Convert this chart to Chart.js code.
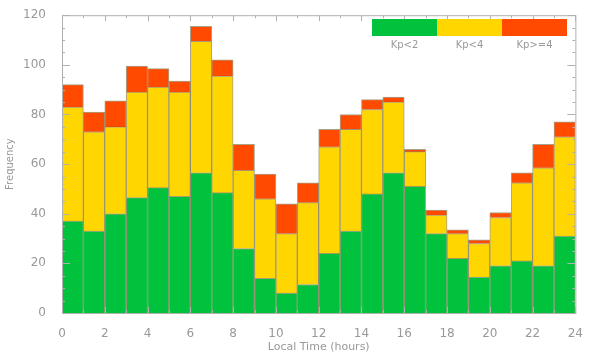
<!DOCTYPE html>
<html>
<head>
<meta charset="utf-8">
<script src="https://cdn.jsdelivr.net/npm/chart.js@4/dist/chart.umd.min.js"></script>
<style>
  html, body { margin: 0; padding: 0; background: #fff; }
  #wrap { width: 589px; height: 358px; }
</style>
</head>
<body>
<div id="wrap"><canvas id="kpChart"></canvas></div>
<script>
// hour bins 0..23 (bar centred at h + 0.5)
const hours = [0,1,2,3,4,5,6,7,8,9,10,11,12,13,14,15,16,17,18,19,20,21,22,23];
// cumulative tops
const topGreen  = [37,33,40,46.5,50.5,47,56.5,48.5,26,14,8,11.5,24,33,48,56.5,51,32,22,14.5,19,21,19,31];
const topYellow = [83,73,75,89,91,89,109.5,95.5,57.5,46,32,44.5,67,74,82,85,65,39.5,32,28,38.5,52.5,58.5,71];
const topAll    = [92,81,85.5,99.5,98.5,93.5,115.5,102,68,56,44,52.5,74,80,86,87,66,41.5,33.5,29.5,40.5,56.5,68,77];
const xTicks = [0,2,4,6,8,10,12,14,16,18,20,22,24];
const yTicks = [0,20,40,60,80,100,120];
const legendLabels = ['Kp<2','Kp<4','Kp>=4'];
const colors = ['#00c23c','#ffd600','#ff4a00'];

const green  = hours.map((h,i) => ({ x: h + 0.5, y: topGreen[i] }));
const yellow = hours.map((h,i) => ({ x: h + 0.5, y: topYellow[i] - topGreen[i] }));
const red    = hours.map((h,i) => ({ x: h + 0.5, y: topAll[i] - topYellow[i] }));

const textGrey = '#999';
const font = { family: 'DejaVu Sans', size: 11 };

// box round the plot plus the IDL-style inside ticks
const frame = {
  id: 'frame',
  afterDatasetsDraw(chart){
    const { ctx, chartArea: a, scales } = chart;
    ctx.save();
    ctx.strokeStyle = '#b0b0b0';
    ctx.lineWidth = 1;
    ctx.strokeRect(a.left + 0.5, a.top + 0.5, a.right - a.left, a.bottom - a.top);
    ctx.beginPath();
    for (let h = 0; h <= 24; h++) {
      const x = Math.round(scales.x.getPixelForValue(h)) + 0.5;
      const len = h % 2 === 0 ? 6 : 3;
      ctx.moveTo(x, a.bottom); ctx.lineTo(x, a.bottom - len);
      ctx.moveTo(x, a.top); ctx.lineTo(x, a.top + len);
    }
    for (let v = 0; v <= 120; v += 5) {
      const y = Math.round(scales.y.getPixelForValue(v)) + 0.5;
      const len = v % 20 === 0 ? 8 : 3;
      ctx.moveTo(a.left, y); ctx.lineTo(a.left + len, y);
      ctx.moveTo(a.right, y); ctx.lineTo(a.right - len, y);
    }
    ctx.stroke();

    // colour-bar legend, top right
    const lx = 372, ly = 19, segW = 65, segH = 17;
    colors.forEach((c, i) => {
      ctx.fillStyle = c;
      ctx.fillRect(lx + i * segW, ly, segW, segH);
    });
    ctx.fillStyle = textGrey;
    ctx.font = '10px "DejaVu Sans"';
    ctx.textAlign = 'center';
    ctx.textBaseline = 'middle';
    legendLabels.forEach((t, i) => ctx.fillText(t, lx + i * segW + segW / 2, ly + segH + 9));
    ctx.restore();
  }
};

const ds = (label, data, i) => ({
  label, data,
  backgroundColor: colors[i],
  borderColor: 'rgba(80,70,20,0.5)',
  borderWidth: 1,
  barPercentage: 1,
  categoryPercentage: 1
});

new Chart(document.getElementById('kpChart'), {
  type: 'bar',
  data: { datasets: [ds(legendLabels[0], green, 0), ds(legendLabels[1], yellow, 1), ds(legendLabels[2], red, 2)] },
  options: {
    responsive: true, maintainAspectRatio: false, animation: false,
    layout: { padding: { top: 12, right: 6, left: 0, bottom: 0 } },
    plugins: { legend: { display: false }, tooltip: { enabled: false } },
    scales: {
      x: {
        type: 'linear', stacked: true, min: 0, max: 24, offset: false,
        afterBuildTicks: s => { s.ticks = xTicks.map(v => ({ value: v })); },
        grid: { display: false }, border: { display: false },
        ticks: { color: textGrey, font: { family: 'DejaVu Sans', size: 12 }, padding: 6, maxRotation: 0 },
        title: { display: true, text: 'Local Time (hours)', color: textGrey, font, padding: { top: 2 } },
        afterFit: s => { s.height = 45; }
      },
      y: {
        stacked: true, min: 0, max: 120,
        afterBuildTicks: s => { s.ticks = yTicks.map(v => ({ value: v })); },
        grid: { display: false }, border: { display: false },
        ticks: { color: textGrey, font: { family: 'DejaVu Sans', size: 12 }, padding: 8 },
        title: { display: true, text: 'Frequency', color: textGrey, font: { family: 'DejaVu Sans', size: 10 } },
        afterFit: s => { s.width = 62; }
      }
    }
  },
  plugins: [frame]
});
</script>
</body>
</html>
